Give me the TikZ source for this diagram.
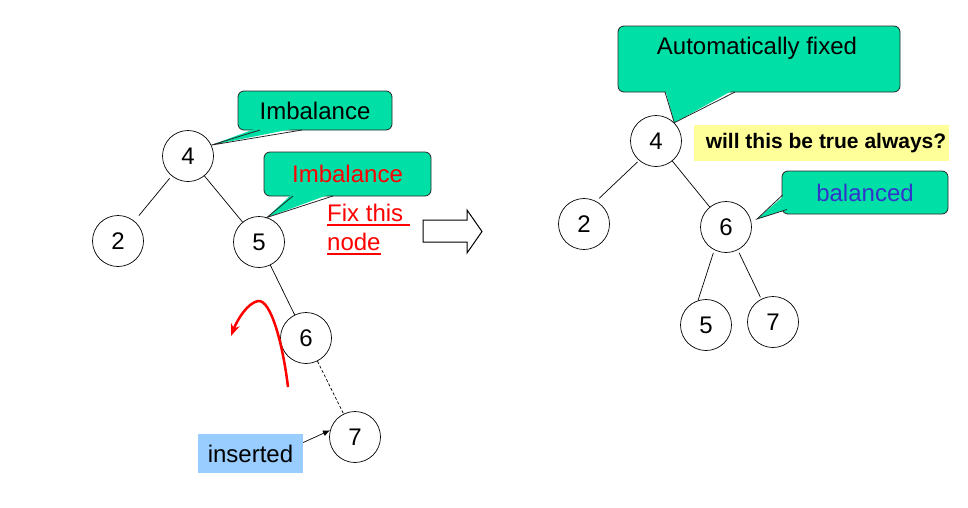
\documentclass[tikz,border=0pt]{standalone}
\usepackage{fontspec}
\setmainfont{Liberation Sans}
\usetikzlibrary{arrows.meta,calc}
\definecolor{calloutc}{RGB}{0,224,166}
\definecolor{insblue}{RGB}{153,204,255}
\definecolor{qyellow}{RGB}{255,255,153}
\definecolor{balblue}{RGB}{51,51,204}
\newcommand{\bigfs}{\fontsize{24}{28}\selectfont}
\tikzset{
  tn/.style={circle,draw,line width=0.7pt,minimum size=51pt,inner sep=0pt,font=\bigfs},
  tedge/.style={line width=0.7pt},
  callbox/.style={fill=calloutc,draw=black!85,line width=0.8pt,rounded corners=6pt,inner sep=0pt,font=\bigfs},
  callside/.style={draw=black!85,line width=0.8pt},
}
\begin{document}
\begin{tikzpicture}[x=1pt,y=-1pt]
\useasboundingbox (0,0) rectangle (968,507);

% ---------- left tree ----------
\node[tn] (l4) at (188,156) {4};
\node[tn] (l2) at (118,241) {2};
\node[tn] (l5) at (259,242) {5};
\node[tn] (l6) at (306,338) {6};
\node[tn] (l7) at (355,437) {7};
\draw[tedge,shorten <=3pt,shorten >=7pt] (l4) -- (l2);
\draw[tedge] (l4) -- (l5);
\draw[tedge] (l5) -- (l6);
\draw[tedge,dashed,dash pattern=on 3pt off 2pt] (l6) -- (l7);

% callout 1
\node[callbox,minimum width=154pt,minimum height=39pt] (c1) at (315,110.5) {Imbalance};
\fill[calloutc] (260,127) -- (l4.25) -- (302,127) -- cycle;
\draw[callside] (260,130) -- (l4.25) -- (302,130);

% callout 2
\node[callbox,minimum width=167pt,minimum height=44pt,text=red] (c2) at (347.5,174) {Imbalance};
\fill[calloutc] (293,193) -- (l5.72) -- (333,193) -- cycle;
\draw[callside] (293,196) -- (l5.72) -- (333,196);

% fix this node
\node[anchor=base west,inner sep=0pt,text=red,font=\bigfs] (fix1) at (327,221) {Fix this};
\node[anchor=base west,inner sep=0pt,text=red,font=\bigfs] (fix2) at (327,250) {node};
\draw[red,line width=2pt] ($(fix1.base west)+(0,3.5)$) -- ++(83,0);
\draw[red,line width=2pt] ($(fix2.base west)+(0,3.5)$) -- ++(54,0);

% hollow arrow
\draw[line width=1pt,fill=white] (423,220) -- (467,220) -- (467,210) -- (482,231.5) -- (467,253) -- (467,242) -- (423,242) -- cycle;

% red curved arrow
\coordinate (rs) at (288,387);
\coordinate (rp) at (258,301);
\coordinate (re) at (231,336);
\draw[red,line width=2.5pt,-{Stealth[length=12pt,width=9pt]}] (rs) .. controls (283,345) and (271,299) .. (rp) .. controls (248,303) and (238,318) .. (re);

% inserted
\node[fill=insblue,minimum width=105pt,minimum height=39pt,inner sep=0pt,font=\bigfs] (ins) at (250.5,453.5) {inserted};
\draw[line width=0.7pt,-{Latex[length=7pt,width=6pt]}] ($(ins.east)+(0,-11)$) -- (l7.165);

% ---------- right tree ----------
\node[tn] (r4) at (656,141) {4};
\node[tn] (r2) at (584,224) {2};
\node[tn] (r6) at (726,227) {6};
\node[tn] (r5) at (706,325) {5};
\node[tn] (r7) at (773,322) {7};
\draw[tedge,shorten <=2pt,shorten >=4pt] (r4.229) -- (r2.62);
\draw[tedge] (r4) -- (r6);
\draw[tedge,shorten <=3pt] (r6.243) -- (r5.108);
\draw[tedge,shorten <=3pt,shorten >=2pt] (r6.297) -- (r7.117);

% automatically fixed
\node[callbox,minimum width=282pt,minimum height=66pt] (c3) at (759,59) {};
\node[inner sep=0pt,font=\bigfs] (c3t) at (757,48) {Automatically fixed};
\fill[calloutc] (665,89) -- (r4.45) -- (735,89) -- cycle;
\draw[callside] (665,92) -- (r4.45) -- (735,92);

% yellow question
\fill[qyellow] (694,125) rectangle (949,161);
\node[inner sep=0pt,font=\fontsize{21}{25}\selectfont\bfseries] (q) at (826,143) {will this be true always?};

% balanced
\node[callbox,minimum width=166pt,minimum height=43pt,text=balblue] (c4) at (865,192.5) {balanced};
\coordinate (bt) at (757,219);
\fill[calloutc] (785,195) -- (bt) -- (788,209) -- (786,209) -- cycle;
\draw[callside] (782.5,195) -- (bt) -- (787,209.5);
\end{tikzpicture}
\end{document}
